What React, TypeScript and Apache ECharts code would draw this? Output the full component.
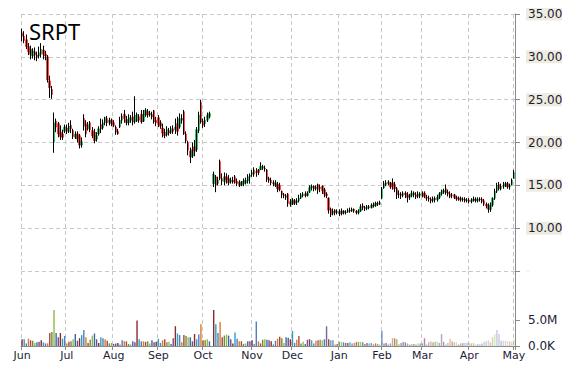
import React, { useEffect, useRef } from "react";
import * as echarts from "echarts";

// Month labels for the x axis (one entry per trading day is built from the OHLC arrays below)
const monthNames = ["Jun", "Jul", "Aug", "Sep", "Oct", "Nov", "Dec", "Jan", "Feb", "Mar", "Apr", "May"];

// OHLC as [open, close, low, high] per trading day, one array per month
const junOHLC = [
  [32.8, 32.4, 31.8, 33.3], [32.4, 31.9, 31.6, 33.0], [32.0, 31.2, 30.9, 32.6], [31.2, 30.6, 30.2, 31.6],
  [30.9, 30.3, 29.7, 31.3], [30.1, 30.7, 29.8, 31.0], [30.6, 30.2, 29.6, 31.1], [30.2, 30.0, 29.5, 30.6],
  [30.1, 30.5, 29.8, 31.2], [30.3, 30.9, 29.9, 31.6], [30.8, 30.3, 29.7, 31.3], [30.3, 30.1, 29.6, 30.7],
  [30.0, 27.3, 27.0, 30.2], [27.2, 26.4, 25.2, 27.8], [26.2, 25.6, 25.1, 26.6], [20.0, 22.3, 18.8, 23.5],
  [22.5, 21.8, 21.2, 22.8], [22.2, 21.0, 20.6, 22.4], [21.2, 20.7, 20.3, 22.0], [21.0, 20.6, 20.3, 21.5],
  [21.3, 21.8, 21.1, 22.1],
];
const julOHLC = [
  [21.7, 21.3, 21.0, 22.1], [21.3, 21.9, 21.1, 22.3], [22.0, 21.6, 21.1, 22.6], [21.4, 20.7, 20.4, 21.6],
  [20.6, 21.0, 20.4, 21.3], [21.0, 20.4, 20.0, 21.3], [20.8, 19.7, 19.3, 21.0], [19.7, 20.1, 19.4, 20.6],
  [22.8, 21.9, 21.4, 23.3], [22.2, 21.0, 20.6, 22.6], [21.6, 22.1, 21.4, 22.4], [22.3, 21.5, 21.2, 22.5],
  [21.4, 20.8, 20.5, 21.8], [21.2, 20.2, 19.9, 21.6], [20.4, 20.8, 20.1, 21.2], [21.0, 21.6, 20.8, 21.9],
  [22.1, 21.6, 21.1, 22.8], [21.7, 22.3, 21.5, 22.7], [22.3, 22.9, 22.0, 23.0], [22.8, 22.3, 21.9, 23.1],
  [22.3, 22.6, 22.0, 22.9], [22.6, 22.2, 21.9, 22.8],
];
const augOHLC = [
  [22.3, 22.0, 21.8, 22.6], [21.8, 21.2, 20.9, 22.0], [21.3, 21.0, 20.9, 21.6], [21.8, 22.6, 21.7, 23.0],
  [22.6, 23.1, 22.2, 23.4], [23.3, 22.8, 22.3, 23.8], [22.7, 22.3, 22.0, 23.1], [22.3, 22.6, 22.0, 23.3],
  [22.6, 22.9, 22.3, 23.2], [23.0, 22.4, 22.0, 23.6], [22.4, 23.2, 22.2, 25.4], [22.5, 23.3, 22.4, 23.5],
  [23.0, 22.6, 22.3, 23.3], [23.3, 22.4, 22.2, 23.8], [22.5, 23.3, 22.4, 23.8], [23.2, 23.8, 23.0, 24.0],
  [23.6, 23.2, 22.9, 23.9], [23.2, 23.4, 23.0, 23.7], [23.3, 23.0, 22.7, 23.6], [23.7, 22.4, 22.2, 23.8],
  [22.6, 22.3, 21.9, 23.0],
];
const sepOHLC = [
  [22.9, 22.1, 21.8, 23.2], [22.3, 21.9, 21.6, 22.6], [21.7, 21.1, 20.6, 22.2], [21.2, 20.8, 20.5, 21.6],
  [20.9, 21.5, 20.7, 21.9], [21.4, 21.1, 20.8, 21.7], [21.2, 21.6, 21.0, 21.9], [21.6, 21.3, 21.0, 22.0],
  [21.5, 21.8, 21.0, 22.8], [22.2, 21.3, 20.8, 23.0], [21.8, 22.8, 21.6, 23.4], [22.8, 22.6, 22.2, 23.3],
  [23.6, 21.0, 20.9, 23.8], [21.0, 20.2, 19.9, 21.3], [20.0, 19.1, 18.5, 20.2], [19.0, 18.3, 17.6, 19.4],
  [18.4, 19.2, 18.2, 20.0], [19.5, 19.0, 18.4, 20.3], [19.2, 21.5, 18.9, 21.8], [21.4, 23.2, 21.1, 23.6],
  [24.7, 22.4, 22.2, 25.0],
];
const octOHLC = [
  [22.5, 22.0, 21.7, 22.8], [22.2, 22.6, 21.8, 23.0], [22.6, 23.2, 22.4, 23.5], [23.0, 23.4, 22.8, 23.6],
  null, [15.2, 16.3, 14.8, 16.6], [16.0, 15.0, 14.2, 16.2], [15.2, 15.6, 15.0, 16.0],
  [17.8, 15.8, 15.6, 18.0], [15.8, 15.5, 15.0, 16.4], [15.4, 16.0, 15.0, 16.5], [16.0, 15.7, 15.2, 16.4],
  [15.8, 15.3, 15.0, 16.2], [15.4, 15.6, 15.2, 15.9], [15.6, 15.4, 15.2, 16.0], [16.0, 15.3, 15.2, 16.2],
  [15.5, 15.2, 14.9, 15.8], [15.4, 15.0, 14.8, 15.6], [15.0, 15.3, 14.9, 15.5], [15.2, 15.5, 14.9, 15.8],
  [15.3, 15.6, 15.1, 15.9], [15.5, 16.0, 15.2, 16.3], [16.0, 16.2, 15.2, 16.4],
];
const novOHLC = [
  [16.3, 16.5, 16.0, 16.8], [16.8, 16.3, 16.0, 17.1], [16.5, 16.6, 16.0, 17.0], [16.8, 16.5, 16.2, 16.9],
  [16.8, 17.2, 16.8, 17.7], [17.0, 17.2, 16.8, 17.4], [17.0, 16.9, 16.6, 17.3], [16.8, 15.7, 15.4, 16.9],
  [15.8, 15.6, 15.3, 16.0], [15.6, 15.3, 15.0, 15.9], [15.3, 15.2, 14.9, 15.6], [15.0, 15.3, 14.8, 15.6],
  [15.1, 14.6, 14.2, 15.4], [15.0, 14.5, 14.3, 15.3], [14.3, 13.9, 13.5, 14.4], [13.9, 13.8, 13.5, 14.1],
  [13.8, 13.6, 13.3, 14.0], [14.0, 12.9, 12.5, 14.1], [13.1, 12.8, 12.5, 13.4],
];
const decOHLC = [
  [12.8, 13.3, 12.7, 13.5], [13.2, 12.9, 12.7, 13.4], [13.0, 13.2, 12.7, 13.5], [13.2, 13.5, 13.0, 13.9],
  [13.5, 13.9, 13.4, 14.1], [13.8, 14.0, 13.6, 14.2], [14.0, 13.8, 13.6, 14.3], [13.8, 14.1, 13.7, 14.3],
  [14.2, 14.7, 14.1, 15.0], [14.7, 14.9, 14.4, 15.1], [14.9, 14.6, 14.3, 15.0], [14.6, 14.8, 14.4, 15.0],
  [15.1, 14.5, 14.0, 15.2], [14.6, 14.8, 14.2, 15.1], [14.9, 14.4, 14.0, 15.0], [14.5, 14.0, 13.6, 14.7],
  [14.0, 13.8, 13.5, 14.2], [13.5, 12.1, 11.7, 13.6], [12.2, 11.6, 11.3, 12.4], [11.7, 12.0, 11.5, 12.3],
  [12.1, 11.8, 11.5, 12.2], [11.8, 12.0, 11.6, 12.2],
];
const janOHLC = [
  [11.9, 11.7, 11.4, 12.2], [11.7, 12.0, 11.5, 12.3], [12.0, 11.8, 11.6, 12.1], [11.8, 11.9, 11.6, 12.1],
  [11.9, 12.1, 11.8, 12.3], [12.1, 12.0, 11.8, 12.4], [12.0, 12.2, 11.9, 12.4], [12.2, 12.0, 11.8, 12.3],
  [12.0, 11.8, 11.6, 12.1], [11.8, 12.0, 11.6, 12.2], [12.0, 12.5, 11.9, 12.8], [12.6, 12.4, 12.1, 12.9],
  [12.4, 12.3, 12.0, 12.6], [12.3, 12.5, 12.1, 12.7], [12.5, 12.4, 12.2, 12.7], [12.4, 12.7, 12.3, 12.9],
  [12.7, 12.6, 12.4, 13.0], [12.6, 12.9, 12.5, 13.1], [12.9, 12.8, 12.6, 13.1], [12.8, 13.0, 12.7, 13.2],
];
const febOHLC = [
  [13.5, 14.6, 13.4, 14.8], [14.7, 15.2, 14.6, 15.5], [15.3, 15.1, 14.9, 15.6], [15.2, 15.4, 15.0, 15.6],
  [15.2, 14.8, 14.6, 15.4], [15.3, 15.0, 14.5, 15.8], [15.1, 14.6, 14.2, 15.4], [14.6, 13.9, 13.4, 14.8],
  [13.9, 14.0, 13.5, 14.4], [14.0, 13.8, 13.4, 14.2], [13.8, 14.1, 13.6, 14.3], [14.1, 13.9, 13.5, 14.3],
  [13.9, 13.6, 13.0, 14.2], [13.6, 13.8, 13.3, 14.0], [13.8, 14.1, 13.6, 14.4], [14.1, 13.9, 13.6, 14.3],
  [13.9, 13.7, 13.4, 14.2], [13.7, 14.0, 13.5, 14.3], [14.0, 13.8, 13.5, 14.2],
];
const marOHLC = [
  [13.8, 14.1, 13.6, 14.3], [14.1, 13.7, 13.5, 14.3], [13.6, 13.5, 13.2, 13.9], [13.5, 13.4, 13.1, 13.8],
  [13.4, 13.2, 12.9, 13.6], [13.2, 13.5, 13.0, 13.7], [13.5, 13.3, 13.0, 13.7], [13.3, 13.6, 13.1, 13.9],
  [13.6, 14.0, 13.4, 14.2], [14.0, 14.2, 13.8, 14.5], [14.2, 14.4, 14.0, 14.6], [14.6, 14.1, 13.9, 15.1],
  [14.2, 14.0, 13.7, 14.5], [14.0, 13.7, 13.5, 14.3], [13.8, 13.9, 13.5, 14.1], [13.9, 13.6, 13.4, 14.0],
  [13.6, 13.4, 13.2, 13.8], [13.4, 13.5, 13.2, 13.7], [13.5, 13.3, 13.1, 13.7], [13.3, 13.4, 13.1, 13.6],
  [13.4, 13.2, 13.0, 13.6], [13.2, 13.3, 13.0, 13.5],
];
const aprOHLC = [
  [13.3, 13.1, 12.9, 13.5], [13.1, 13.3, 12.9, 13.5], [13.3, 13.4, 13.1, 13.7], [13.4, 13.2, 13.0, 13.6],
  [13.2, 13.4, 13.0, 13.6], [13.4, 13.3, 13.1, 13.6], [13.4, 13.1, 12.9, 13.6], [13.2, 12.8, 12.6, 13.4],
  [12.8, 12.6, 12.3, 13.0], [12.6, 12.2, 11.8, 12.9], [12.2, 12.7, 11.9, 13.0], [12.7, 13.5, 12.5, 13.6],
  [13.5, 14.3, 13.3, 14.6], [14.3, 15.0, 14.1, 15.3], [15.1, 14.6, 14.4, 15.4], [14.6, 14.9, 14.4, 15.2],
  [14.9, 15.0, 14.6, 15.4], [15.0, 15.2, 14.8, 15.4], [15.2, 14.8, 14.6, 15.4], [14.8, 15.0, 14.5, 15.2],
  [15.1, 15.6, 15.0, 15.8],
];
const mayOHLC = [[15.8, 16.5, 15.8, 16.8]];

// Volume in millions, one array per month
const junVol = [1.3, 1.3, 0.5, 1.4, 1.1, 1.0, 0.6, 0.7, 0.8, 1.1, 0.7, 0.5, 0.5, 2.5, 2.7, 6.9, 2.5, 1.7, 2.5, 1.4, 1.9];
const julVol = [0.5, 0.8, 0.9, 1.3, 2.3, 1.0, 1.5, 2.1, 3.1, 1.7, 0.6, 1.2, 2.0, 2.4, 1.3, 0.6, 1.7, 1.5, 1.3, 1.0, 0.5, 0.6];
const augVol = [0.4, 0.5, 0.6, 0.3, 1.1, 0.9, 0.9, 0.4, 0.3, 0.9, 0.7, 4.9, 1.3, 0.9, 0.9, 0.8, 0.9, 0.5, 1.1, 0.7, 0.8];
const sepVol = [1.4, 0.6, 1.1, 1.3, 0.7, 0.8, 0.4, 1.5, 3.8, 2.4, 2.1, 0.7, 2.1, 1.9, 1.7, 1.7, 0.9, 2.3, 1.3, 2.2, 4.2];
const octVol = [1.1, 1.1, 1.3, 0.9, 0, 6.9, 4.2, 2.5, 4.6, 1.7, 2.0, 2.2, 2.0, 1.3, 0.5, 2.6, 1.4, 0.9, 0.9, 0.4, 0.5, 0.9, 0.9];
const novVol = [1.1, 0.4, 4.7, 0.9, 0.5, 1.2, 1.3, 1.2, 1.1, 0.9, 0.3, 1.0, 1.4, 1.8, 1.5, 0.6, 1.7, 1.6, 1.3];
const decVol = [2.9, 0.6, 1.2, 1.9, 0.5, 0.8, 0.4, 1.2, 1.3, 1.1, 0.5, 1.0, 1.1, 1.2, 1.1, 1.3, 3.8, 1.3, 1.1, 1.1, 0.3, 0.4];
const janVol = [0.8, 0.8, 0.7, 0.6, 0.6, 0.7, 0.5, 0.6, 0.8, 0.8, 0.8, 0.7, 0.4, 0.6, 0.5, 0.6, 0.4, 0.5, 0.4, 0.3];
const febVol = [2.9, 0.5, 0.6, 0.3, 0.5, 1.5, 1.5, 1.3, 0.4, 0.6, 0.8, 0.7, 0.5, 0.3, 0.4, 0.4, 0.3, 0.5, 0.5];
const marVol = [0.5, 1.5, 0.3, 0.7, 0.9, 0.7, 0.8, 0.8, 0.6, 2.3, 0.8, 0.3, 0.6, 1.4, 0.9, 0.7, 0.7, 0.3, 0.5, 0.6, 0.6, 0.6];
const aprVol = [0.6, 0.5, 0.6, 0.3, 0.4, 0.3, 0.5, 0.8, 0.9, 1.1, 0.7, 1.7, 2.3, 3.1, 2.3, 1.0, 1.0, 1.0, 1.0, 0.9, 0.8];
const mayVol = [1.3];

const ohlcByMonth = [junOHLC, julOHLC, augOHLC, sepOHLC, octOHLC, novOHLC, decOHLC, janOHLC, febOHLC, marOHLC, aprOHLC, mayOHLC];
const volByMonth = [junVol, julVol, augVol, sepVol, octVol, novVol, decVol, janVol, febVol, marVol, aprVol, mayVol];

const volTicks = [0, 5];
const volPalette = ["#8b2a2a", "#3b66a8", "#6f8f2a", "#d9782f", "#2e9fbf", "#6d4f8f", "#8fba4d", "#a8433a", "#4d7fbf"];

export default function App() {
  const ref = useRef<HTMLDivElement>(null);

  useEffect(() => {
    if (!ref.current) return;
    const chart = echarts.init(ref.current, undefined, { renderer: "svg" });

    const categories: string[] = [];
    const monthStarts = new Set<number>();
    const ohlc: any[] = [];
    const vols: number[] = [];
    ohlcByMonth.forEach((arr, m) => {
      arr.forEach((d, k) => {
        if (k === 0) monthStarts.add(categories.length);
        categories.push(monthNames[m] + "-" + k);
        ohlc.push(d ? d : "-");
        vols.push(volByMonth[m][k]);
      });
    });
    // bodies only: wick collapsed onto the body (same source values)
    const bodies = ohlc.map((d: any) =>
      d === "-" ? "-" : [d[0], d[1], Math.min(d[0], d[1]), Math.max(d[0], d[1])]
    );
    const n = categories.length;
    const isStart = (i: number) => monthStarts.has(i);
    const opacityAt = (i: number) => (i < 125 ? 1 : Math.max(0.3, 1 - ((i - 125) / (n - 125)) * 0.72));

    const gridLine = { show: true, interval: isStart, lineStyle: { color: "#c8c8c8", type: [4, 3], width: 1 } };
    const axisGray = "#8a8a8a";
    const labelColor = "#1c1c36";

    const option: any = {
      animation: false,
      backgroundColor: "#ffffff",
      title: {
        text: "SRPT",
        left: 24,
        top: 15,
        textStyle: { fontFamily: "Noto Sans", fontSize: 22, fontWeight: "normal", color: "#000" },
      },
      grid: [
        { left: 21, right: 55, top: 14, height: 257 },
        { left: 21, right: 55, top: 271, height: 75 },
      ],
      xAxis: [
        {
          type: "category",
          gridIndex: 0,
          data: categories,
          boundaryGap: true,
          axisLine: { show: false },
          axisTick: { show: false },
          axisLabel: { show: false },
          splitLine: gridLine,
        },
        {
          type: "category",
          gridIndex: 1,
          data: categories,
          boundaryGap: true,
          axisLine: { show: true, lineStyle: { color: axisGray } },
          axisTick: { show: true, interval: isStart, length: 4, lineStyle: { color: axisGray } },
          axisLabel: {
            interval: isStart,
            formatter: (v: string) => v.split("-")[0],
            color: labelColor,
            fontSize: 11,
            fontFamily: "DejaVu Sans",
            margin: 4,
          },
          splitLine: gridLine,
        },
      ],
      yAxis: [
        {
          type: "value",
          gridIndex: 0,
          position: "right",
          min: 5,
          max: 35,
          interval: 5,
          axisLine: { show: true, lineStyle: { color: axisGray } },
          axisTick: { show: true, length: 5, lineStyle: { color: axisGray } },
          axisLabel: {
            formatter: (v: number) => (v === 5 ? "" : v.toFixed(2)),
            color: labelColor,
            fontSize: 12,
            fontFamily: "DejaVu Sans",
            backgroundColor: "#eeebe0",
            padding: [1, 2, 0, 2],
            margin: 11,
          },
          splitLine: { show: true, lineStyle: { color: "#c8c8c8", type: [4, 3], width: 1 } },
        },
        {
          type: "value",
          gridIndex: 1,
          position: "right",
          min: 0,
          max: 14.42,
          interval: 5,
          axisLine: { show: true, lineStyle: { color: axisGray } },
          axisTick: { show: true, length: 5, customValues: volTicks, lineStyle: { color: axisGray } },
          axisLabel: {
            customValues: volTicks,
            formatter: (v: number) => (v === 0 ? "0.0K" : v === 5 ? v.toFixed(1) + "M" : ""),
            color: labelColor,
            fontSize: 12,
            fontFamily: "DejaVu Sans",
            margin: 13,
          },
          splitLine: { show: false },
        },
      ],
      series: [
        {
          type: "candlestick",
          xAxisIndex: 0,
          yAxisIndex: 0,
          data: bodies,
          barWidth: 2,
          itemStyle: {
            color: "#00b050",
            color0: "#ff1010",
            borderColor: "#00b050",
            borderColor0: "#ff1010",
            borderWidth: 0.5,
          },
        },
        {
          type: "candlestick",
          xAxisIndex: 0,
          yAxisIndex: 0,
          data: ohlc,
          barWidth: 0.5,
          itemStyle: {
            color: "#000",
            color0: "#000",
            borderColor: "#000",
            borderColor0: "#000",
            borderWidth: 1,
          },
        },
        {
          type: "bar",
          xAxisIndex: 1,
          yAxisIndex: 1,
          barWidth: 1.4,
          data: vols.map((v, i) => ({
            value: v,
            itemStyle: { color: volPalette[(i * 4) % volPalette.length], opacity: opacityAt(i) },
          })),
        },
      ],
    };
    chart.setOption(option);
    return () => chart.dispose();
  }, []);

  return <div ref={ref} style={{ width: 570, height: 370, margin: -8 }} />;
}
